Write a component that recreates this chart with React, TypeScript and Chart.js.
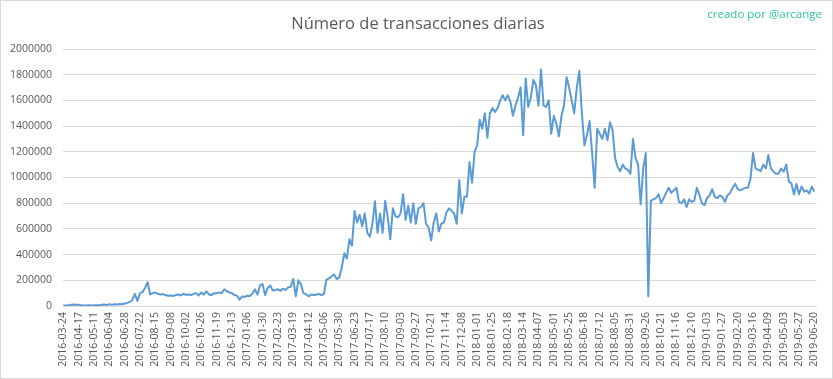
import { useEffect, useRef } from "react";
import { Chart, registerables } from "chart.js";

Chart.register(...registerables);

const TITLE = "Número de transacciones diarias";
const CREDIT = "creado por @arcange";

const TICK_LABELS = [
  "2016-03-24", "2016-04-17", "2016-05-11", "2016-06-04", "2016-06-28", "2016-07-22",
  "2016-08-15", "2016-09-08", "2016-10-02", "2016-10-26", "2016-11-19", "2016-12-13",
  "2017-01-06", "2017-01-30", "2017-02-23", "2017-03-19", "2017-04-12", "2017-05-06",
  "2017-05-30", "2017-06-23", "2017-07-17", "2017-08-10", "2017-09-03", "2017-09-27",
  "2017-10-21", "2017-11-14", "2017-12-08", "2018-01-01", "2018-01-25", "2018-02-18",
  "2018-03-14", "2018-04-07", "2018-05-01", "2018-05-25", "2018-06-18", "2018-07-12",
  "2018-08-05", "2018-08-31", "2018-09-26", "2018-10-21", "2018-11-16", "2018-12-10",
  "2019-01-03", "2019-01-27", "2019-02-20", "2019-03-16", "2019-04-09", "2019-05-03",
  "2019-05-27", "2019-06-20",
];
const TICK_EVERY = 24; // categories between two labels
const CATEGORY_COUNT = 1180; // days on the category axis
const SAMPLE_STEP = 4; // one value read every 4 days

const VALUES_2016 = [
  3000, 4000, 5000, 9000, 11000, 10000, 9000, 5000, 4000, 4000,
  5000, 4000, 5000, 6000, 5000, 9000, 12000, 8000, 13000, 10000,
  14000, 12000, 16000, 14000, 20000, 24000, 32000, 45000, 95000, 40000,
  100000, 108000, 140000, 185000, 90000, 100000, 105000, 95000, 90000, 92000,
  85000, 80000, 82000, 78000, 85000, 90000, 82000, 95000, 88000, 90000,
  85000, 95000, 100000, 82000, 105000, 88000, 115000, 90000, 85000, 100000,
  98000, 105000, 100000, 130000, 115000, 105000, 100000, 85000, 80000, 50000,
  75000,
];

const VALUES_2017 = [
  70000, 80000, 78000, 95000, 130000, 88000, 160000, 170000, 85000, 140000,
  160000, 120000, 125000, 130000, 118000, 135000, 125000, 145000, 150000, 210000,
  75000, 200000, 170000, 100000, 92000, 75000, 90000, 85000, 88000, 95000,
  85000, 92000, 205000, 215000, 230000, 245000, 210000, 220000, 300000, 410000,
  370000, 520000, 470000, 740000, 650000, 710000, 620000, 720000, 570000, 540000,
  640000, 815000, 570000, 720000, 570000, 820000, 690000, 520000, 760000, 700000,
  690000, 720000, 870000, 670000, 780000, 650000, 800000, 640000, 760000, 770000,
  800000, 640000, 610000, 510000, 650000, 720000, 580000, 640000, 650000, 730000,
  760000, 740000, 720000, 640000, 980000, 720000, 850000, 850000, 1120000, 960000,
  1200000,
];

const VALUES_2018 = [
  1250000, 1450000, 1380000, 1500000, 1310000, 1500000, 1540000, 1510000, 1540000, 1600000,
  1640000, 1600000, 1640000, 1590000, 1480000, 1560000, 1620000, 1700000, 1330000, 1770000,
  1550000, 1620000, 1760000, 1720000, 1560000, 1840000, 1560000, 1550000, 1600000, 1340000,
  1480000, 1420000, 1320000, 1480000, 1560000, 1780000, 1700000, 1600000, 1500000, 1700000,
  1830000, 1500000, 1250000, 1330000, 1440000, 1190000, 920000, 1380000, 1340000, 1300000,
  1380000, 1290000, 1430000, 1370000, 1150000, 1080000, 1050000, 1100000, 1070000, 1060000,
  1030000, 1300000, 1150000, 1100000, 790000, 1070000, 1190000, 75000, 820000, 830000,
  840000, 870000, 800000, 840000, 880000, 920000, 880000, 900000, 920000, 810000,
  800000, 830000, 770000, 830000, 810000, 820000, 920000, 864000, 800000, 785000,
];

const VALUES_2019 = [
  840000, 860000, 910000, 850000, 840000, 860000, 850000, 810000, 860000, 880000,
  920000, 950000, 910000, 900000, 910000, 920000, 920000, 990000, 1190000, 1070000,
  1060000, 1050000, 1100000, 1070000, 1175000, 1070000, 1045000, 1030000, 1030000, 1070000,
  1045000, 1100000, 970000, 955000, 870000, 950000, 870000, 930000, 890000, 900000,
  875000, 930000, 890000,
];

const SERIES = [...VALUES_2016, ...VALUES_2017, ...VALUES_2018, ...VALUES_2019];

const TEXT_COLOR = "#595959";
const GRID_COLOR = "#d9d9d9";
const LINE_COLOR = "#5b9bd5";
const CREDIT_COLOR = "#2ec99b";
const FONT = '"Open Sans", "Noto Sans", sans-serif';

const decorPlugin = {
  id: "decor",
  afterDraw(chart: any) {
    const { ctx, width, height } = chart;
    ctx.save();
    ctx.strokeStyle = GRID_COLOR;
    ctx.lineWidth = 1;
    ctx.strokeRect(0.5, 0.5, width - 1, height - 1);
    ctx.fillStyle = TEXT_COLOR;
    ctx.font = `16.5px ${FONT}`;
    ctx.textAlign = "center";
    ctx.textBaseline = "alphabetic";
    ctx.fillText(TITLE, 418, 29);
    ctx.fillStyle = CREDIT_COLOR;
    ctx.font = `11.5px ${FONT}`;
    ctx.textAlign = "right";
    ctx.fillText(CREDIT, 822, 18);
    ctx.restore();
  },
};

export default function App() {
  const canvasRef = useRef<HTMLCanvasElement | null>(null);

  useEffect(() => {
    document.body.style.margin = "0";
    const canvas = canvasRef.current;
    if (!canvas) return;
    const chart = new Chart(canvas, {
      type: "line",
      data: {
        datasets: [
          {
            data: SERIES.map((v, i) => ({ x: i * SAMPLE_STEP, y: v })),
            borderColor: LINE_COLOR,
            borderWidth: 2,
            pointRadius: 0,
            tension: 0,
            borderJoinStyle: "round",
            fill: false,
          },
        ],
      },
      options: {
        animation: false,
        responsive: false,
        devicePixelRatio: 1,
        layout: { padding: { top: 49, right: 15, bottom: 0, left: 0 } },
        plugins: {
          legend: { display: false },
          title: { display: false },
          tooltip: { enabled: false },
        },
        scales: {
          x: {
            type: "linear",
            min: -0.5,
            max: CATEGORY_COUNT - 0.5,
            afterBuildTicks: (scale: any) => {
              scale.ticks = TICK_LABELS.map((_, i) => ({ value: i * TICK_EVERY }));
            },
            afterFit: (scale: any) => {
              scale.height = 73;
            },
            ticks: {
              autoSkip: false,
              minRotation: 90,
              maxRotation: 90,
              padding: 6,
              color: TEXT_COLOR,
              font: { family: FONT, size: 10.5 },
              callback: (_v: any, index: number) => TICK_LABELS[index] ?? "",
            },
            grid: { display: false, drawTicks: false },
            border: { display: true, color: GRID_COLOR, width: 1 },
          },
          y: {
            min: 0,
            max: 2000000,
            afterFit: (scale: any) => {
              scale.width = 63;
            },
            ticks: {
              stepSize: 200000,
              padding: 11,
              color: TEXT_COLOR,
              font: { family: FONT, size: 10.5 },
              callback: (v: any) => String(v),
            },
            grid: { color: GRID_COLOR, drawTicks: false },
            border: { display: false },
          },
        },
      },
      plugins: [decorPlugin],
    });
    return () => chart.destroy();
  }, []);

  return (
    <div style={{ width: 833, height: 379, background: "#ffffff" }}>
      <canvas ref={canvasRef} width={833} height={379} />
    </div>
  );
}
